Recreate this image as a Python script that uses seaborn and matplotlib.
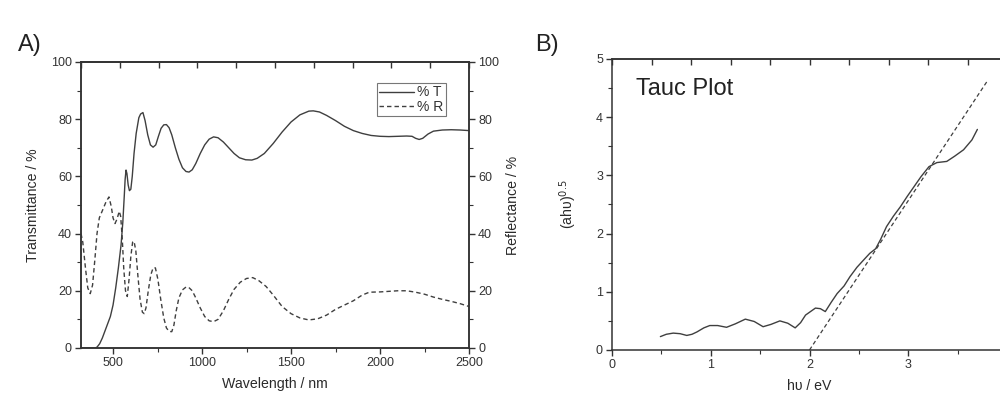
import numpy as np
import pandas as pd
import matplotlib
matplotlib.use('Agg')
import matplotlib.pyplot as plt
from matplotlib.ticker import MultipleLocator, FixedLocator
import seaborn as sns

# Panel A: transmittance (left axis) and reflectance (right axis)
t_wavelength = [320, 380, 400, 410, 425, 440, 455, 470, 485, 500, 515, 530, 545, 555, 563, 568,
                573, 578, 585, 592, 600, 608, 618, 630, 645, 655, 668, 680, 695, 710, 725, 740,
                755, 770, 785, 800, 815, 830, 850, 870, 890, 910, 927, 945, 965, 990, 1015, 1040,
                1065, 1090, 1120, 1150, 1180, 1210, 1245, 1280, 1310, 1350, 1400, 1450, 1500,
                1550, 1600, 1625, 1660, 1700, 1750, 1800, 1850, 1900, 1950, 2000, 2050, 2100,
                2150, 2180, 2200, 2220, 2240, 2270, 2300, 2350, 2400, 2450, 2500]
transmittance = [0, 0, 0, 0.3, 1.5, 3.5, 6, 8.5, 11, 15, 21, 28, 36, 44, 53, 59,
                 62.2, 61, 57, 55, 55.5, 60, 68, 75, 80.5, 81.8, 82.3, 79.5, 74.5, 71, 70.2, 71,
                 74, 76.8, 78, 78.1, 77, 74.5, 70, 66, 63, 61.7, 61.5, 62.3, 64.5, 68, 71, 73,
                 73.8, 73.5, 72, 70, 68, 66.5, 65.8, 65.7, 66.3, 68, 71.5, 75.5, 79,
                 81.5, 82.8, 82.9, 82.5, 81.3, 79.5, 77.5, 76, 75, 74.3, 74, 73.9, 74,
                 74.1, 74, 73.3, 72.9, 73.3, 74.8, 75.8, 76.2, 76.3, 76.2, 76]

r_wavelength = [320, 330, 345, 358, 372, 385, 398, 410, 423, 440, 460, 477, 490, 500, 511, 522,
                535, 543, 552, 560, 570, 580, 590, 600, 610, 618, 628, 640, 652, 665, 675, 685,
                698, 712, 725, 738, 752, 768, 785, 800, 815, 830, 842, 855, 870, 890, 910, 925,
                945, 965, 990, 1015, 1040, 1065, 1090, 1120, 1150, 1180, 1215, 1250, 1285, 1320,
                1360, 1400, 1450, 1500, 1550, 1600, 1650, 1700, 1750, 1800, 1850, 1900, 1940,
                2000, 2050, 2100, 2150, 2200, 2250, 2300, 2350, 2400, 2450, 2500]
reflectance = [40, 37, 28, 21, 19, 22, 31, 40, 45.5, 48, 51, 52.8, 49.5, 45.5, 43.5, 45,
               47.8, 46, 38, 28, 20, 18, 24, 32, 37, 37.3, 34, 25, 17, 12.5, 12, 14,
               20, 25.5, 28, 28, 24, 17, 10.5, 7, 5.8, 5.7, 8, 13, 17.5, 20.3, 21.3, 21.2,
               20, 17.5, 14, 11, 9.5, 9.2, 10, 13, 17, 20.5, 23, 24.3, 24.6, 23.5,
               21.5, 18.5, 14.5, 12, 10.5, 9.8, 10.2, 11.5, 13.5, 15, 16.5, 18.5, 19.5,
               19.6, 19.8, 20, 20, 19.5, 18.8, 17.8, 17, 16.3, 15.5, 14.5]

# Panel B: Tauc plot
photon_energy = [0.49, 0.55, 0.62, 0.69, 0.757, 0.81, 0.86, 0.93, 0.99, 1.07, 1.16, 1.25, 1.35,
                 1.44, 1.53, 1.61, 1.70, 1.78, 1.855, 1.91, 1.96, 2.06, 2.11, 2.16, 2.22, 2.28,
                 2.35, 2.41, 2.48, 2.55, 2.61, 2.67, 2.72, 2.78, 2.85, 2.92, 2.99, 3.06, 3.13,
                 3.21, 3.29, 3.34, 3.39, 3.47, 3.56, 3.645, 3.70]
tauc_value = [0.23, 0.27, 0.29, 0.28, 0.25, 0.27, 0.31, 0.38, 0.42, 0.42, 0.39, 0.45, 0.53,
              0.49, 0.40, 0.44, 0.50, 0.46, 0.38, 0.47, 0.60, 0.72, 0.71, 0.66, 0.82, 0.97,
              1.10, 1.26, 1.42, 1.55, 1.66, 1.74, 1.90, 2.12, 2.30, 2.46, 2.64, 2.81, 2.98,
              3.15, 3.22, 3.23, 3.24, 3.33, 3.44, 3.61, 3.79]
fit_energy = [2.0, 3.8]
fit_value = [0.0, 4.62]

sns.set_style('ticks')
plt.rcParams['font.family'] = ['Liberation Sans', 'DejaVu Sans']
plt.rcParams['axes.edgecolor'] = '#333333'
plt.rcParams['axes.linewidth'] = 1.1
plt.rcParams['xtick.color'] = '#333333'
plt.rcParams['ytick.color'] = '#333333'
plt.rcParams['axes.labelcolor'] = '#2a2a2a'

LINE = '#3f3f3f'
TICK_FS = 9
LABEL_FS = 10.2
DASH = (0, (3.2, 2.2))

fig = plt.figure(figsize=(10, 3.94), dpi=100)


def style_ticks(axis, sides, direction='out'):
    axis.tick_params(which='major', direction=direction, length=4.5, width=1, labelsize=TICK_FS,
                     pad=2, **sides)
    axis.tick_params(which='minor', direction=direction, length=2.7, width=0.8, **sides)


# ---------------- Panel A ----------------
ax_t = fig.add_axes([0.081, 0.1168, 0.388, 0.726])
df_t = pd.DataFrame({'wl': t_wavelength, 'T': transmittance})
df_r = pd.DataFrame({'wl': r_wavelength, 'R': reflectance})
sns.lineplot(data=df_t, x='wl', y='T', ax=ax_t, color=LINE, lw=1.0, estimator=None,
             sort=False, legend=False)
ax_t.set_xlim(320, 2500)
ax_t.set_ylim(0, 100)
ax_t.xaxis.set_major_locator(MultipleLocator(500))
ax_t.xaxis.set_minor_locator(MultipleLocator(250))
ax_t.yaxis.set_major_locator(MultipleLocator(20))
ax_t.yaxis.set_minor_locator(MultipleLocator(10))
style_ticks(ax_t, {'bottom': True, 'left': True, 'top': False, 'right': False})
ax_t.set_xlabel('Wavelength / nm', fontsize=LABEL_FS, labelpad=6)
ax_t.set_ylabel('Transmittance / %', fontsize=LABEL_FS, labelpad=8)

ax_r = ax_t.twinx()
sns.lineplot(data=df_r, x='wl', y='R', ax=ax_r, color=LINE, lw=1.0, estimator=None,
             sort=False, legend=False, linestyle=DASH)
ax_r.set_ylim(0, 100)
ax_r.yaxis.set_major_locator(MultipleLocator(20))
ax_r.yaxis.set_minor_locator(MultipleLocator(10))
style_ticks(ax_r, {'right': True, 'left': False})
ax_r.set_ylabel('Reflectance / %', fontsize=LABEL_FS, labelpad=5)

top_a = ax_t.secondary_xaxis('top')
top_a.set_xticks(np.linspace(320, 2500, 11))
top_a.set_xticklabels([])
top_a.tick_params(direction='in', length=4.5, width=1)

handles = ax_t.get_lines()[:1] + ax_r.get_lines()[:1]
leg = ax_r.legend(handles, ['% T', '% R'], loc='upper right', bbox_to_anchor=(0.94, 0.925),
                  borderaxespad=0, fontsize=10, frameon=True, fancybox=False,
                  handlelength=2.5, handletextpad=0.25, borderpad=0.15, labelspacing=0.05)
leg.get_frame().set_edgecolor('#555555')
leg.get_frame().set_linewidth(0.8)
for txt in leg.get_texts():
    txt.set_color('#333333')

# ---------------- Panel B ----------------
ax_b = fig.add_axes([0.612, 0.1117, 0.395, 0.7386])
df_tauc = pd.DataFrame({'E': photon_energy, 'V': tauc_value})
df_fit = pd.DataFrame({'E': fit_energy, 'V': fit_value})
sns.lineplot(data=df_tauc, x='E', y='V', ax=ax_b, color=LINE, lw=1.0, estimator=None, sort=False)
sns.lineplot(data=df_fit, x='E', y='V', ax=ax_b, color=LINE, lw=0.9, estimator=None,
             sort=False, linestyle=DASH)
ax_b.set_xlim(0, 4)
ax_b.set_ylim(0, 5)
ax_b.xaxis.set_major_locator(FixedLocator([0, 1, 2, 3]))
ax_b.xaxis.set_minor_locator(FixedLocator([0.5, 1.5, 2.5, 3.5]))
ax_b.yaxis.set_major_locator(MultipleLocator(1))
ax_b.yaxis.set_minor_locator(MultipleLocator(0.5))
style_ticks(ax_b, {'bottom': True, 'left': True, 'top': False, 'right': False})
ax_b.set_xlabel('h\u03c5 / eV', fontsize=LABEL_FS, labelpad=6)
ax_b.set_ylabel('(ah\u03c5)$^{0.5}$', fontsize=LABEL_FS, labelpad=12)

top_b = ax_b.secondary_xaxis('top')
top_b.set_xticks(np.linspace(0, 4, 11))
top_b.set_xticklabels([])
top_b.tick_params(direction='in', length=4.5, width=1)
right_b = ax_b.secondary_yaxis('right')
right_b.set_yticks([0, 1, 2, 3, 4, 5])
right_b.set_yticklabels([])
right_b.tick_params(direction='in', length=4.5, width=1)

ax_b.text(0.061, 0.897, 'Tauc Plot', transform=ax_b.transAxes, fontsize=17, color='#222222',
          va='center', ha='left')

fig.text(0.018, 0.885, 'A)', fontsize=17, color='#222222', va='center')
fig.text(0.535, 0.885, 'B)', fontsize=17, color='#222222', va='center')

fig.savefig('out.png', dpi=100)
